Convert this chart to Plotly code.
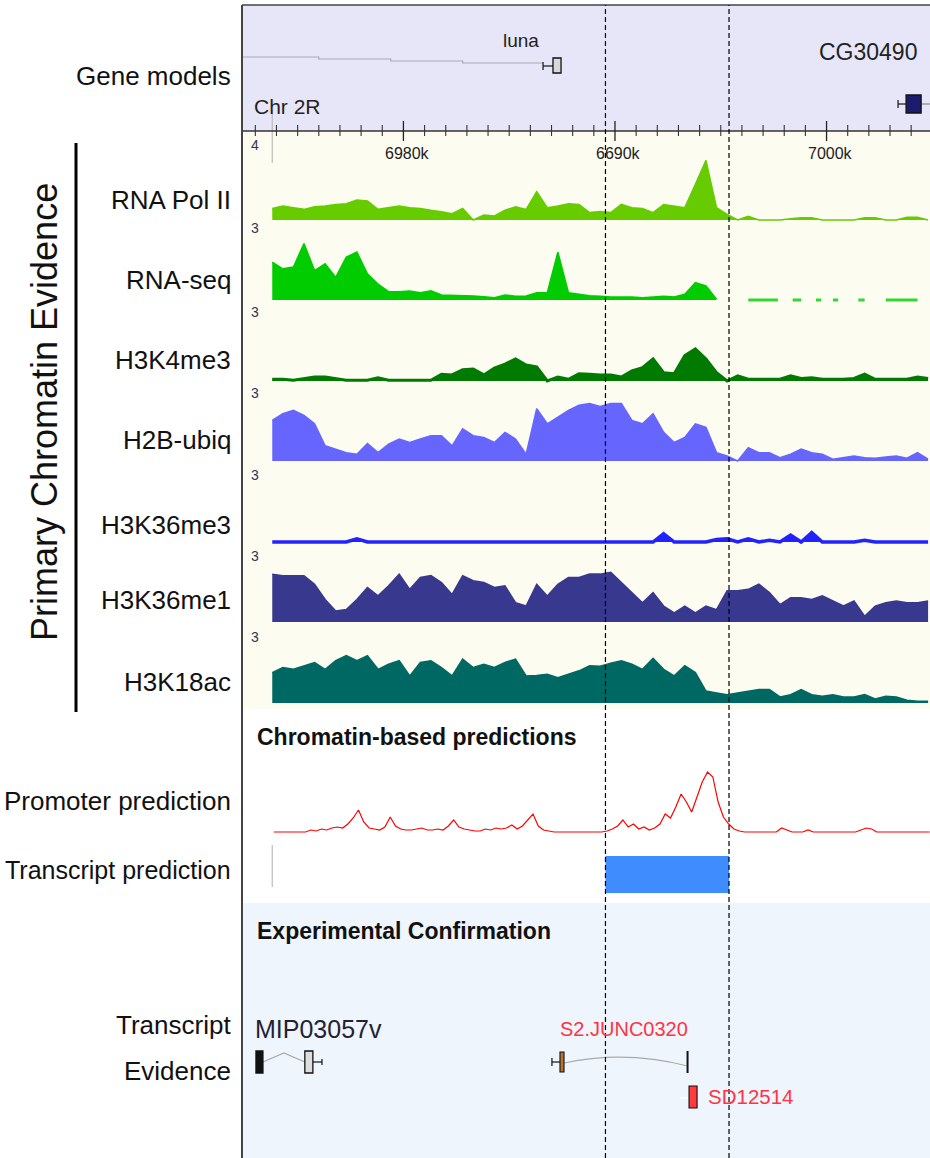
import numpy as np
import plotly.graph_objects as go

W, H = 930, 1158

# ---------------- genomic window (kb, Chr 2R) ----------------
VIEW_START, VIEW_END = 6972.37, 7004.89
BIN_START, BIN_STEP = 6973.8, 0.5          # chromatin signal bins
PROM_START, PROM_STEP = 6973.875, 0.25     # promoter score bins

# ---------------- chromatin signal tracks ----------------
TRACK_NAMES = ["RNA Pol II", "RNA-seq", "H3K4me3", "H2B-ubiq",
               "H3K36me3", "H3K36me1", "H3K18ac"]
TRACK_SCALE = [4, 3, 3, 3, 3, 3, 3]

pol2 = [0.6, 0.74, 0.65, 0.56, 0.7, 0.74, 0.82, 0.86, 1.05, 1.0,
        0.56, 0.65, 0.74, 0.65, 0.61, 0.51, 0.44, 0.33, 0.61, 0.0,
        0.26, 0.21, 0.51, 0.7, 0.56, 1.49, 0.65, 0.74, 0.86, 0.82,
        0.39, 0.45, 0.39, 0.82, 0.65, 0.61, 0.39, 0.82, 0.74, 0.65,
        1.88, 3.14, 0.65, 0.3, 0.0, 0.2, 0.0, 0.0, 0.0, 0.07,
        0.12, 0.12, 0.0, 0.0, 0.0, 0.0, 0.12, 0.12, 0.0, 0.0,
        0.15, 0.15, 0.0]

rna_seq = [1.49, 1.23, 1.3, 2.23, 1.16, 1.43, 0.89, 1.69, 1.89, 1.03,
           0.63, 0.33, 0.33, 0.36, 0.29, 0.36, 0.2, 0.19, 0.19, 0.16,
           0.13, 0.09, 0.2, 0.15, 0.16, 0.29, 0.29, 1.89, 0.29, 0.23,
           0.17, 0.15, 0.12, 0.12, 0.12, 0.09, 0.12, 0.15, 0.12, 0.23,
           0.69, 0.56, 0.03] + [None] * 20

# stretches with zero RNA-seq coverage beyond the last read (kb)
rna_seq_zero = [(6996.3, 6997.7), (6998.4, 6998.8), (6999.5, 6999.75),
                (7000.3, 7000.55), (7001.5, 7001.8), (7002.8, 7004.3)]

h3k4me3 = [0.07, 0.07, 0.03, 0.1, 0.16, 0.16, 0.1, 0.03, 0.03, 0.03,
           0.13, 0.03, 0.03, 0.03, 0.03, 0.03, 0.27, 0.24, 0.44, 0.47,
           0.24, 0.51, 0.67, 0.87, 0.63, 0.56, 0.0, 0.16, 0.07, 0.29,
           0.27, 0.24, 0.24, 0.16, 0.4, 0.53, 0.87, 0.33, 0.29, 1.0,
           1.27, 0.87, 0.33, 0.0, 0.2, 0.07, 0.07, 0.07, 0.07, 0.2,
           0.1, 0.13, 0.07, 0.07, 0.07, 0.1, 0.27, 0.07, 0.07, 0.07,
           0.07, 0.16, 0.1]

h2b_ubiq = [1.6, 1.87, 2.0, 1.8, 1.47, 0.6, 0.47, 0.33, 0.27, 0.69,
            0.33, 0.67, 0.87, 0.73, 0.87, 1.0, 1.0, 0.6, 1.27, 1.0,
            0.93, 0.73, 1.13, 0.87, 0.27, 2.07, 1.47, 1.73, 2.0, 2.2,
            2.27, 2.15, 2.27, 2.27, 1.6, 1.47, 1.87, 1.13, 0.73, 0.93,
            1.47, 1.33, 0.33, 0.2, 0.0, 0.53, 0.33, 0.33, 0.13, 0.27,
            0.47, 0.33, 0.27, 0.07, 0.13, 0.2, 0.13, 0.11, 0.16, 0.2,
            0.11, 0.33, 0.07]

h3k36me3 = [0.0, 0.0, 0.0, 0.0, 0.0, 0.0, 0.0, 0.0, 0.13, 0.0,
            0.0, 0.0, 0.0, 0.0, 0.0, 0.0, 0.0, 0.0, 0.0, 0.0,
            0.0, 0.0, 0.0, 0.0, 0.0, 0.0, 0.0, 0.0, 0.0, 0.0,
            0.0, 0.0, 0.0, 0.0, 0.0, 0.0, 0.0, 0.33, 0.0, 0.0,
            0.0, 0.0, 0.1, 0.13, 0.0, 0.13, 0.0, 0.07, 0.0, 0.27,
            0.0, 0.37, 0.0, 0.0, 0.0, 0.0, 0.07, 0.0, 0.0, 0.0,
            0.0, 0.0, 0.0]

h3k36me1 = [1.89, 1.83, 1.83, 1.83, 1.49, 0.89, 0.43, 0.49, 0.89, 1.36,
            1.03, 1.43, 1.89, 1.29, 1.76, 1.83, 1.56, 1.09, 1.83, 1.63,
            1.56, 1.36, 1.43, 0.76, 0.63, 1.49, 1.03, 1.49, 1.76, 1.76,
            1.89, 1.89, 1.96, 1.56, 1.16, 0.76, 1.16, 0.63, 0.36, 0.63,
            0.36, 0.63, 0.49, 1.23, 1.23, 1.29, 1.49, 1.16, 0.69, 0.96,
            0.96, 0.89, 1.03, 0.83, 0.63, 0.83, 0.23, 0.63, 0.76, 0.83,
            0.76, 0.76, 0.83]

h3k18ac = [1.2, 1.4, 1.33, 1.47, 1.6, 1.33, 1.67, 1.87, 1.67, 1.87,
           1.33, 1.53, 1.67, 1.07, 1.6, 1.67, 1.4, 1.07, 1.73, 1.4,
           1.53, 1.4, 1.6, 1.73, 1.07, 1.09, 1.13, 1.0, 1.13, 1.27,
           1.47, 1.45, 1.57, 1.67, 1.53, 1.33, 1.76, 1.33, 1.07, 1.47,
           1.2, 0.47, 0.4, 0.33, 0.4, 0.47, 0.53, 0.53, 0.24, 0.33,
           0.53, 0.33, 0.27, 0.33, 0.24, 0.24, 0.33, 0.16, 0.27, 0.24,
           0.11, 0.07, 0.07]

TRACK_VALUES = [pol2, rna_seq, h3k4me3, h2b_ubiq, h3k36me3, h3k36me1, h3k18ac]

# ---------------- chromatin-based promoter score ----------------
promoter = [0, 0, 0, 0, 0, 0, 0,
            0.08, 0.04, 0.12, 0.08, 0.16, 0.2, 0.16,
            0.32, 0.56, 0.88, 0.4, 0.16, 0.12, 0.08,
            0.2, 0.6, 0.24, 0.12, 0.08, 0.08, 0.12,
            0.16, 0.08, 0.08, 0.12, 0.08, 0.24, 0.48,
            0.2, 0.12, 0.08, 0.04, 0.04, 0.12, 0.08,
            0.16, 0.12, 0.16, 0.28, 0.12, 0.24, 0.48,
            0.72, 0.24, 0.08, 0.04, 0, 0, 0,
            0, 0, 0, 0, 0, 0, 0,
            0.04, 0.12, 0.24, 0.48, 0.2, 0.32, 0.12,
            0.2, 0.08, 0.16, 0.32, 0.72, 0.56, 1.0,
            1.52, 1.2, 0.8, 1.4, 2.0, 2.4, 2.2,
            1.2, 0.6, 0.32, 0.12, 0.04, 0, 0,
            0, 0, 0, 0, 0, 0.16, 0.08,
            0, 0, 0, 0.08, 0, 0, 0,
            0, 0, 0, 0, 0, 0, 0.08,
            0.16, 0.12, 0, 0, 0, 0, 0,
            0, 0, 0, 0, 0, 0]

# predicted transcript (kb)
transcript_pred = (6989.55, 6995.39)

# ---------------- gene models (kb) ----------------
luna_exon = (6987.07, 6987.45)
luna_intron_steps = [6972.37, 6976.0, 6979.4, 6982.8, 6986.6]
cg30490_exon = (7003.76, 7004.47)
cg30490_stub = 7003.38

# ---------------- experimental evidence (kb) ----------------
mip_exons = [(6973.03, 6973.36), (6975.34, 6975.72)]
mip_stub_end = 6976.15
junc_exons = [(6987.40, 6987.59), (6993.43, 6993.50)]
junc_stub_start = 6987.02
sd_exon = (6993.50, 6993.88)
sd_stub_start = 6993.07

# ruler
RULER_FIRST, RULER_LAST = 6973, 7004
RULER_MAJOR = [6980, 6990, 7000]
RULER_LABELS = ["6980k", "6690k", "7000k"]

# ================= drawing =================
SANS = "Liberation Sans, Arial, sans-serif"

TRACK_COLORS = ["#66CC00", "#00CC00", "#007A00", "#6666FF",
                "#2222FF", "#38388E", "#006862"]
TRACK_BASE = [220, 300, 381, 461, 542, 622, 703]
TRACK_LABEL_ROW = [200, 280, 360, 440, 525, 600, 682]
SCALE_LABEL_ROW = [145, 228, 312, 393, 475, 556, 637]
TRACK_PX = 76
PAD = 2.5

PANEL_L = 242


def ry(p):
    """pixel row (from top) -> paper y"""
    return 1 - p / H


def rx(p):
    return p / W


fig = go.Figure()
layout_axes = {}
bins = BIN_START + BIN_STEP * np.arange(len(pol2))

for i, (vals, col) in enumerate(zip(TRACK_VALUES, TRACK_COLORS)):
    name = "y" if i == 0 else f"y{i + 1}"
    key = "yaxis" if i == 0 else f"yaxis{i + 1}"
    scale = TRACK_SCALE[i]
    unit = TRACK_PX / scale
    base = TRACK_BASE[i]
    layout_axes[key] = dict(domain=[ry(base + PAD), ry(base - TRACK_PX)],
                            range=[-PAD / unit, scale], visible=False,
                            anchor="x", fixedrange=True)
    lw = {2: 3, 4: 3.5}.get(i, 1.5)
    fig.add_trace(go.Scatter(x=bins, y=vals, mode="lines",
                             line=dict(color=col, width=lw),
                             fill="tozeroy", fillcolor=col,
                             xaxis="x", yaxis=name, hoverinfo="skip",
                             showlegend=False))

# RNA-seq zero-coverage dashes
zx, zy = [], []
for s, e in rna_seq_zero:
    zx += [s, e, None]
    zy += [0, 0, None]
fig.add_trace(go.Scatter(x=zx, y=zy, mode="lines",
                         line=dict(color="#33D633", width=3),
                         xaxis="x", yaxis="y2", hoverinfo="skip",
                         showlegend=False))

# promoter score
PROM_BASE = 832
layout_axes["yaxis8"] = dict(domain=[ry(PROM_BASE + PAD), ry(PROM_BASE - 75)],
                             range=[-PAD / 25, 3], visible=False,
                             anchor="x", fixedrange=True)
prom_x = PROM_START + PROM_STEP * np.arange(len(promoter))
fig.add_trace(go.Scatter(x=prom_x, y=promoter, mode="lines",
                         line=dict(color="#FF0000", width=1.2),
                         xaxis="x", yaxis="y8", hoverinfo="skip",
                         showlegend=False))

shapes = []


def rect_px(x0, x1, y0, y1, fill, line=None):
    shapes.append(dict(type="rect", xref="paper", yref="paper",
                       x0=rx(x0), x1=rx(x1), y0=ry(y1), y1=ry(y0),
                       fillcolor=fill, line=dict(width=0) if line is None else line,
                       layer="below"))


# panel backgrounds
rect_px(PANEL_L, W, 5, 131, "#E6E6F8")
rect_px(PANEL_L, W, 131, 709, "#FCFDF0")
rect_px(PANEL_L, W, 903, H, "#EEF5FD")


def box(x0, x1, top, bot, fill, lw=1.3):
    shapes.append(dict(type="rect", xref="x", yref="paper",
                       x0=x0, x1=x1, y0=ry(bot), y1=ry(top),
                       fillcolor=fill, line=dict(color="#111111", width=lw),
                       layer="above"))


def seg(x0, x1, y0, y1, color="#111111", width=1.2, dash=None):
    d = dict(color=color, width=width)
    if dash:
        d["dash"] = dash
    shapes.append(dict(type="line", xref="x", yref="paper",
                       x0=x0, x1=x1, y0=ry(y0), y1=ry(y1), line=d,
                       layer="above"))


def path(points, color="#AAAAAA", width=1.2, curve=False):
    (xa, ya), rest = points[0], points[1:]
    p = f"M {xa},{ry(ya)}"
    if curve:
        (xc, yc), (xb, yb) = rest
        p += f" Q {xc},{ry(yc)} {xb},{ry(yb)}"
    else:
        for xb, yb in rest:
            p += f" L {xb},{ry(yb)}"
    shapes.append(dict(type="path", xref="x", yref="paper", path=p,
                       line=dict(color=color, width=width), layer="above"))


# ---- gene models ----
luna_rows = [57, 59, 61, 63]
pts = []
for k in range(len(luna_intron_steps) - 1):
    pts += [(luna_intron_steps[k], luna_rows[k]), (luna_intron_steps[k + 1], luna_rows[k])]
path(pts, color="#A8A8B8", width=1.2)
seg(luna_intron_steps[-1], luna_exon[0], 66, 66)
seg(luna_intron_steps[-1], luna_intron_steps[-1], 62, 70)
box(luna_exon[0], luna_exon[1], 58, 73, "#D9D9D9")

seg(cg30490_stub, cg30490_exon[0], 104, 104)
seg(cg30490_stub, cg30490_stub, 100, 108)
seg(cg30490_exon[1], VIEW_END, 104, 104, color="#888888")
box(cg30490_exon[0], cg30490_exon[1], 95, 113, "#1C1C6E")

# start markers of the data tracks
seg(BIN_START, BIN_START, 110, 163, color="#BBBBBB", width=1.2)
seg(BIN_START, BIN_START, 845, 887, color="#BBBBBB", width=1.2)

# ---- ruler ----
shapes.append(dict(type="line", xref="paper", yref="paper", x0=rx(PANEL_L), x1=1,
                   y0=ry(131), y1=ry(131), line=dict(color="#333333", width=1.3)))
for k in range(RULER_FIRST, RULER_LAST + 1):
    if k in RULER_MAJOR:
        seg(k, k, 121, 141, color="#222222", width=1.3)
    else:
        seg(k, k, 125, 136, color="#333333", width=1.1)

# ---- transcript prediction ----
shapes.append(dict(type="rect", xref="x", yref="paper",
                   x0=transcript_pred[0], x1=transcript_pred[1],
                   y0=ry(893), y1=ry(856), fillcolor="#3F8CFF",
                   line=dict(width=0), layer="above"))

# ---- experimental evidence ----
path([(mip_exons[0][1], 1062), (np.mean([mip_exons[0][1], mip_exons[1][0]]), 1053),
      (mip_exons[1][0], 1062)], color="#AAAAAA")
box(mip_exons[0][0], mip_exons[0][1], 1051, 1073, "#111111")
box(mip_exons[1][0], mip_exons[1][1], 1051, 1073, "#DDDDDD")
seg(mip_exons[1][1], mip_stub_end, 1062, 1062)
seg(mip_stub_end, mip_stub_end, 1059, 1065)

path([(junc_exons[0][1], 1063), (np.mean([junc_exons[0][1], junc_exons[1][0]]), 1050),
      (junc_exons[1][0], 1066)], color="#AAAAAA", curve=True)
seg(junc_stub_start, junc_exons[0][0], 1062, 1062)
seg(junc_stub_start, junc_stub_start, 1058, 1066)
box(junc_exons[0][0], junc_exons[0][1], 1052, 1072, "#B8742E", lw=1.1)
seg(junc_exons[1][0], junc_exons[1][0], 1051, 1073, color="#111111", width=2)

seg(sd_stub_start, sd_exon[0], 1098, 1098, color="#FFFFFF", width=1.5)
box(sd_exon[0], sd_exon[1], 1086, 1108, "#FF3B3B", lw=1.1)

# ---- panel borders ----
shapes.append(dict(type="line", xref="paper", yref="paper", x0=rx(PANEL_L), x1=rx(PANEL_L),
                   y0=0, y1=ry(5), line=dict(color="#444444", width=2)))
shapes.append(dict(type="line", xref="paper", yref="paper", x0=rx(PANEL_L), x1=1,
                   y0=ry(5), y1=ry(5), line=dict(color="#444444", width=1.5)))
# bracket for the chromatin group
shapes.append(dict(type="line", xref="paper", yref="paper", x0=rx(76), x1=rx(76),
                   y0=ry(712), y1=ry(143), line=dict(color="#000000", width=3)))

# ---- dashed guides at predicted transcript ends ----
for xv in transcript_pred:
    shapes.append(dict(type="line", xref="x", yref="paper", x0=xv, x1=xv,
                       y0=0, y1=ry(5), line=dict(color="#000000", width=1.2, dash="5px,3px"),
                       layer="above"))

annotations = []


def label(text, x, y, size, color="#111111", anchor="right",
          xref="paper", xshift=0, bold=False, angle=0):
    t = f"<b>{text}</b>" if bold else text
    annotations.append(dict(text=t, x=x if xref != "paper" else rx(x), y=ry(y),
                            xref=xref, yref="paper", xanchor=anchor, yanchor="middle",
                            showarrow=False, xshift=xshift, textangle=angle,
                            font=dict(family=SANS, size=size, color=color)))


label("Gene models", 233, 76, 26)
for name, r in zip(TRACK_NAMES, TRACK_LABEL_ROW):
    label(name, 233, r, 26)
for s, r in zip(TRACK_SCALE, SCALE_LABEL_ROW):
    label(str(s), 249, r, 14, color="#333355", anchor="left")
label("Promoter prediction", 233, 801, 26)
label("Transcript prediction", 233, 870, 25)
label("Transcript", 233, 1025, 26)
label("Evidence", 233, 1071, 26)
label("Primary Chromatin Evidence", 44, 412, 36, anchor="center", angle=-90)

label("Chromatin-based predictions", 255, 737, 23, anchor="left", bold=True)
label("Experimental Confirmation", 255, 931, 23, anchor="left", bold=True)

label("luna", luna_exon[0], 40, 19, color="#222222", xref="x", xshift=-12)
label("CG30490", cg30490_exon[1], 52, 23, color="#222222", xref="x", xshift=-2)
label("Chr 2R", 252, 106, 21, color="#222222", anchor="left")

for k, t in zip(RULER_MAJOR, RULER_LABELS):
    label(t, k, 153, 16, color="#222222", anchor="center", xref="x", xshift=4)

label("MIP03057v", mip_exons[0][0], 1029, 25, color="#222233",
      anchor="left", xref="x", xshift=-3)
label("S2.JUNC0320", junc_exons[0][0], 1029, 20, color="#FF3344",
      anchor="left", xref="x", xshift=-2)
label("SD12514", sd_exon[1], 1096, 20.5, color="#FF3344",
      anchor="left", xref="x", xshift=9)

fig.update_layout(
    width=W, height=H,
    margin=dict(l=0, r=0, t=0, b=0),
    paper_bgcolor="#FFFFFF", plot_bgcolor="rgba(0,0,0,0)",
    xaxis=dict(domain=[rx(PANEL_L), 1], range=[VIEW_START, VIEW_END],
               visible=False, anchor="y", fixedrange=True),
    shapes=shapes, annotations=annotations, showlegend=False,
    **layout_axes,
)

fig.write_html("out.html")
